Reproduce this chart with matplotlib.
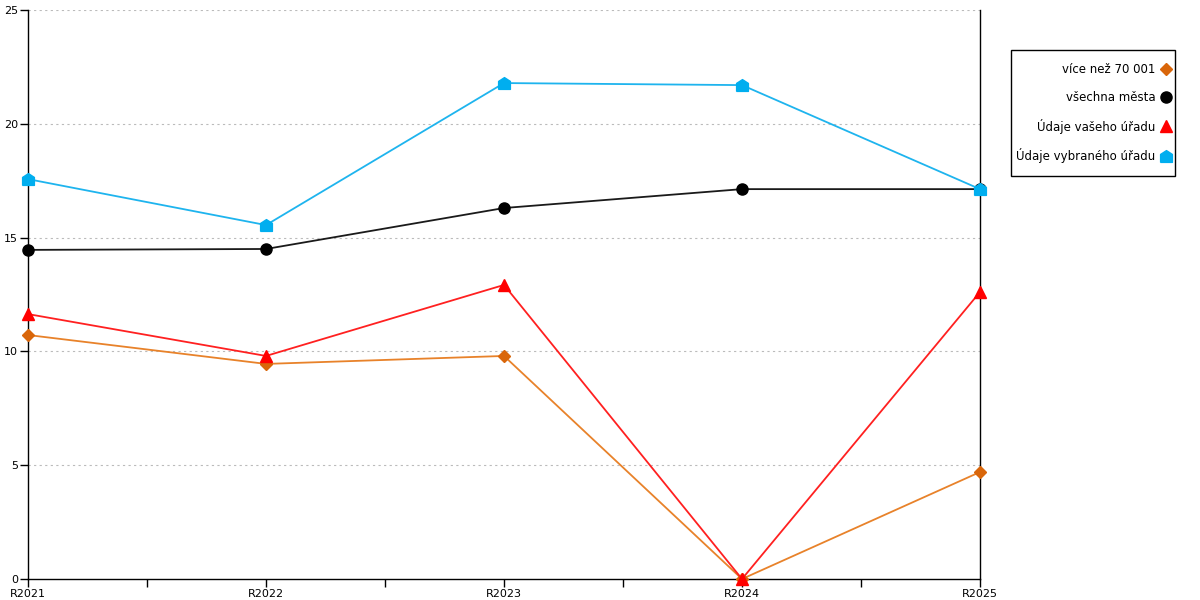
import matplotlib.pyplot as plt
from matplotlib.lines import Line2D
from matplotlib.patches import Rectangle
import numpy as np

years = ['R2021', 'R2022', 'R2023', 'R2024', 'R2025']
nad_70001 = [10.72, 9.45, 9.80, 0.0, 4.70]
vsechna_mesta = [14.46, 14.50, 16.30, 17.13, 17.13]
vas_urad = [11.64, 9.80, 12.92, 0.0, 12.61]
vybrany_urad = [17.57, 15.55, 21.79, 21.70, 17.13]

labels = ['více než 70 001', 'všechna města', 'Údaje vašeho úřadu', 'Údaje vybraného úřadu']

# little house shape for the selected office marker
house = [(-1, -1), (1, -1), (1, 0.35), (0, 1), (-1, 0.35), (-1, -1)]

plt.rcParams['font.family'] = ['DejaVu Sans']

fig = plt.figure(figsize=(12, 6), dpi=100)
ax = fig.add_axes([28 / 1200, 21 / 600, 952 / 1200, 569 / 600])

x = np.arange(len(years))
series = [
    (nad_70001, '#E8822A', '#D9660A', 'D', 6),
    (vsechna_mesta, '#1a1a1a', '#000000', 'o', 8),
    (vas_urad, '#FF2020', '#FF0000', '^', 8),
    (vybrany_urad, '#1EB4EE', '#00AEEF', house, 8.5),
]
handles = []
for (vals, lc, mc, mk, ms), lab in zip(series, labels):
    ax.plot(x, vals, color=lc, lw=1.3, marker=mk, ms=ms, mfc=mc, mec=mc, zorder=3, clip_on=False)
    handles.append(Line2D([], [], ls='none', marker=mk, ms=ms, mfc=mc, mec=mc, label=lab))

ax.set_xlim(0, 4)
ax.set_ylim(0, 25)
ax.set_xticks(x)
ax.set_xticklabels(years)
ax.set_xticks(x[:-1] + 0.5, minor=True)
ax.set_yticks([0, 5, 10, 15, 20, 25])
ax.tick_params(axis='both', labelsize=8, length=6, width=1, color='black')
ax.tick_params(axis='x', which='minor', length=6, width=1)
ax.tick_params(axis='x', pad=1)
ax.tick_params(axis='y', pad=1)

ax.spines['top'].set_visible(False)
for s in ['left', 'bottom', 'right']:
    ax.spines[s].set_linewidth(1)
    ax.spines[s].set_color('black')

for yv in [5, 10, 15, 20, 25]:
    ax.axhline(yv, color='#bbbbbb', lw=0.8, ls=(0, (2, 3)), zorder=1)

# legend box drawn by hand so the padding matches
fig.patches.append(Rectangle((1011 / 1200, 1 - 176 / 600), 164 / 1200, 126 / 600,
                             transform=fig.transFigure, fill=False, ec='black', lw=1))
leg = ax.legend(handles=handles, loc='upper right', bbox_to_anchor=(1171 / 1200, 1 - 63 / 600),
                bbox_transform=fig.transFigure, markerfirst=False, frameon=False,
                fontsize=8.5, labelspacing=1.25, borderpad=0,
                handlelength=0.8, handletextpad=0.5, borderaxespad=0)

fig.savefig('out.png', dpi=100)
